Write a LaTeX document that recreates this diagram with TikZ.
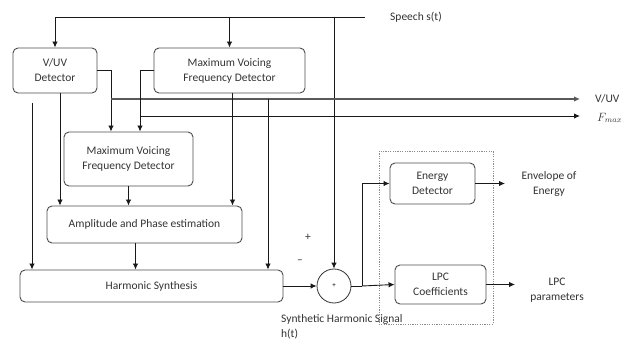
\documentclass[tikz,border=0pt]{standalone}
\usepackage{fontspec}
\setmainfont{Carlito}
\usetikzlibrary{arrows,arrows.meta,positioning,calc}

\begin{document}
\begin{tikzpicture}[x=1pt,y=-1pt,
    >={Latex[length=6pt,width=5.5pt]},
    block/.style={draw=black!70,line width=0.9pt,rounded corners=5pt,align=center,inner sep=0pt,
        font=\fontsize{11.5}{15}\selectfont,text=black!80},
    sig/.style={line width=0.9pt,draw=black!90},
    lbl/.style={font=\fontsize{11.5}{15.5}\selectfont,text=black!80,align=center,inner sep=0pt},
    groupbox/.style={draw=black!45,dashed,dash pattern=on 1.2pt off 1.2pt,line width=0.7pt}]
        \useasboundingbox (0,0) rectangle (630,342);

        % Detector blocks
        \node[block,minimum width=84pt,minimum height=45pt] (vuv) at (55,70.5) {V/UV\\Detector};
        \node[block,minimum width=151pt,minimum height=45pt] (mvfdtop) at (229.5,70.5) {Maximum Voicing\\Frequency Detector};
        \node[block,minimum width=129pt,minimum height=54pt] (mvfd) at (128.5,159) {Maximum Voicing\\Frequency Detector};
        \node[block,minimum width=195pt,minimum height=37pt] (ampl) at (144.5,224.5) {Amplitude and Phase estimation};
        \node[block,minimum width=263pt,minimum height=32pt] (hsyn) at (151.5,286) {Harmonic Synthesis};

        % Summing point
        \node[draw=black!80,line width=0.8pt,circle,minimum size=34pt,inner sep=0pt,font=\fontsize{7}{8}\selectfont] (sum) at (334,286) {+};
        \node[lbl] (plus) at (308,237) {+};
        \node[lbl] (minus) at (300,262) {--};

        % Analysis blocks
        \node[block,minimum width=85pt,minimum height=41pt] (energy) at (432.5,183.5) {Energy\\Detector};
        \node[block,minimum width=91pt,minimum height=39pt] (lpc) at (440.5,284.5) {LPC\\Coefficients};
        \draw[groupbox] (379,151) rectangle (493,324);

        % Invisible nodes
        \coordinate (speechin) at (365,17);
        \coordinate (vuvj) at (111,99);
        \coordinate (fj) at (140,116);
        \coordinate (vuvout) at (580,99);
        \coordinate (fout) at (580,116);
        \coordinate (hsin) at (32,103);
        \coordinate (vuvtap) at (268,99);
        \coordinate (sumj) at (362,286);
        \coordinate (energyout) at (505,183.5);
        \coordinate (lpcout) at (515,284.5);

        % Texts
        \node[lbl,anchor=west] (speech) at (390,17) {Speech s(t)};
        \node[lbl,anchor=west] (vuvlbl) at (595,99) {V/UV};
        \node[lbl,anchor=west] (flbl) at (597,118) {$F_{max}$};
        \node[lbl] (envlbl) at (549,184) {Envelope of\\Energy};
        \node[lbl] (lpclbl) at (557,290) {LPC\\parameters};
        \node[lbl,anchor=west,align=left] (synlbl) at (281,327) {Synthetic Harmonic Signal\\h(t)};

        % Speech input arcs
        \draw[sig,->] (speechin) -| (vuv.north);
        \draw[sig,->] (mvfdtop.north |- speechin) -- (mvfdtop.north);
        \draw[sig,->] (sum.north |- speechin) -- (sum.north);

        % Detector outputs
        \draw[sig,->] (vuv.east) -| (vuvj |- mvfd.north);
        \draw[->,line width=1.5pt,draw=black!65] (vuvj) -- (vuvout);
        \draw[sig,->] (mvfdtop.west) -| (fj |- mvfd.north);
        \draw[sig,->] (fj) -- (fout);

        % Arcs into amplitude and synthesis blocks
        \draw[sig,->] ($(vuv.south)+(5,0)$) -- ($(vuv.south |- ampl.north)+(5,0)$);
        \draw[sig,->] ($(mvfdtop.south)+(3,0)$) -- ($(mvfdtop.south |- ampl.north)+(3,0)$);
        \draw[sig,->] (mvfd.south) -- (mvfd.south |- ampl.north);
        \draw[sig,->] (hsin) -- (hsin |- hsyn.north);
        \draw[sig,->] ($(ampl.south)+(-9,0)$) -- ($(ampl.south |- hsyn.north)+(-9,0)$);
        \draw[sig,->] (vuvtap) -- (vuvtap |- hsyn.north);

        % Residual path
        \draw[sig,->] (hsyn.east) -- (sum.west);
        \draw[sig] (sum.east) -- (sumj);
        \draw[sig,->] (sumj) |- (energy.west);
        \draw[sig,->] (sumj) -- (lpc.west);
        \draw[sig,->] (energy.east) -- (energyout);
        \draw[sig,->] (lpc.east) -- (lpcout);
    \end{tikzpicture}
\end{document}
